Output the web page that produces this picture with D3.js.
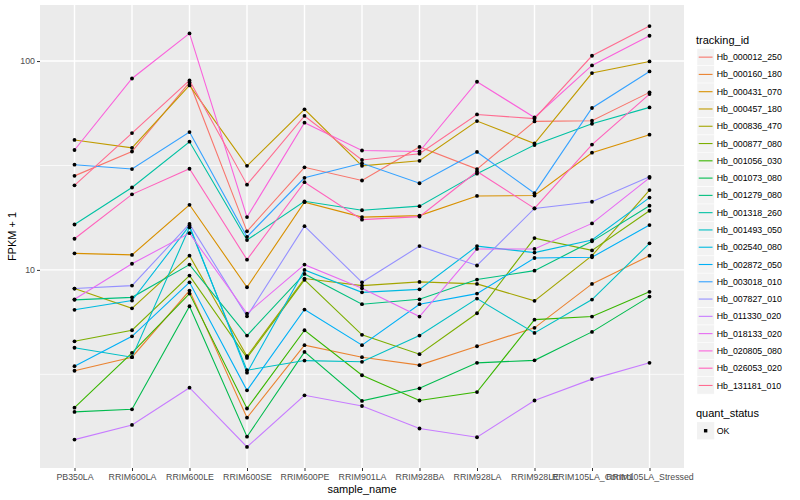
<!DOCTYPE html>
<html>
<head>
<meta charset="utf-8">
<script src="https://cdn.jsdelivr.net/npm/d3@7"></script>
<style>
  body { margin: 0; background: #fff; }
  text { font-family: "Liberation Sans", Arial, Helvetica, sans-serif; }
</style>
</head>
<body>
<svg width="800" height="500"></svg>
<script>
// sample names along the x axis
const samples = ["PB350LA", "RRIM600LA", "RRIM600LE", "RRIM600SE", "RRIM600PE",
  "RRIM901LA", "RRIM928BA", "RRIM928LA", "RRIM928LE", "RRIM105LA_Control", "RRIM105LA_Stressed"];

const trackingIds = ["Hb_000012_250", "Hb_000160_180", "Hb_000431_070", "Hb_000457_180",
  "Hb_000836_470", "Hb_000877_080", "Hb_001056_030", "Hb_001073_080", "Hb_001279_080",
  "Hb_001318_260", "Hb_001493_050", "Hb_002540_080", "Hb_002872_050", "Hb_003018_010",
  "Hb_007827_010", "Hb_011330_020", "Hb_018133_020", "Hb_020805_080", "Hb_026053_020",
  "Hb_131181_010"];

// FPKM + 1, one array per gene, in sample order
const hb_000012_250 = [28.2, 36.9, 79.0, 15.3, 31.0, 26.8, 38.8, 30.4, 51.4, 51.8, 70.8];
const hb_000160_180 = [3.29, 3.82, 7.96, 1.96, 4.36, 3.82, 3.50, 4.31, 5.28, 8.57, 11.7];
const hb_000431_070 = [12.0, 11.8, 20.5, 8.26, 21.1, 17.9, 18.2, 22.6, 22.7, 36.4, 44.4];
const hb_000457_180 = [41.9, 38.4, 76.4, 31.5, 58.7, 31.5, 33.3, 51.6, 40.3, 87.6, 99.6];
const hb_000836_470 = [8.14, 6.55, 11.7, 3.86, 9.09, 8.41, 8.76, 8.57, 7.11, 11.7, 24.1];
const hb_000877_080 = [4.55, 5.14, 9.39, 3.79, 8.96, 4.89, 3.95, 6.20, 14.2, 12.4, 19.2];
const hb_001056_030 = [2.19, 4.01, 7.70, 2.17, 5.14, 3.13, 2.37, 2.60, 5.78, 5.98, 7.85];
const hb_001073_080 = [2.09, 2.15, 6.70, 1.59, 4.05, 2.36, 2.71, 3.59, 3.69, 5.05, 7.45];
const hb_001279_080 = [7.19, 7.39, 10.6, 4.85, 9.57, 6.85, 7.23, 8.99, 9.92, 13.7, 20.3];
const hb_001318_260 = [16.5, 24.8, 41.1, 13.9, 21.3, 19.3, 20.2, 28.9, 39.6, 50.1, 60.0];
const hb_001493_050 = [4.24, 3.82, 16.0, 3.31, 3.68, 3.63, 4.85, 7.29, 4.99, 7.21, 13.4];
const hb_002540_080 = [6.44, 7.13, 16.3, 3.22, 10.0, 7.81, 8.07, 13.0, 12.1, 13.9, 22.2];
const hb_002872_050 = [3.46, 4.81, 8.72, 2.65, 6.46, 4.36, 6.85, 7.70, 11.4, 11.5, 16.4];
const hb_003018_010 = [31.9, 30.4, 45.7, 14.4, 27.6, 32.4, 26.0, 36.7, 23.3, 59.6, 89.2];
const hb_007827_010 = [8.14, 8.41, 16.6, 6.00, 16.2, 8.72, 13.0, 10.5, 19.7, 21.2, 27.9];
const hb_011330_020 = [1.54, 1.81, 2.73, 1.42, 2.51, 2.23, 1.74, 1.58, 2.37, 3.00, 3.59];
const hb_018133_020 = [7.23, 10.7, 15.0, 6.18, 10.6, 8.17, 5.98, 12.6, 12.6, 16.7, 27.6];
const hb_020805_080 = [37.5, 82.5, 135.6, 17.9, 50.7, 37.3, 36.9, 79.6, 53.7, 95.3, 132.2];
const hb_026053_020 = [14.1, 23.0, 30.5, 11.2, 26.3, 17.4, 18.0, 29.6, 19.7, 39.8, 69.5];
const hb_131181_010 = [25.4, 45.2, 80.8, 25.6, 54.6, 33.6, 36.0, 55.5, 53.0, 106.0, 147.1];

const seriesValues = [hb_000012_250, hb_000160_180, hb_000431_070, hb_000457_180,
  hb_000836_470, hb_000877_080, hb_001056_030, hb_001073_080, hb_001279_080,
  hb_001318_260, hb_001493_050, hb_002540_080, hb_002872_050, hb_003018_010,
  hb_007827_010, hb_011330_020, hb_018133_020, hb_020805_080, hb_026053_020,
  hb_131181_010];

const quantLevels = ["OK"];
const yMajor = [10, 100];

// ggplot default hue palette for 20 levels
const colours = ["#F8766D", "#EA8331", "#D89000", "#C09B00", "#A3A500", "#7CAE00",
  "#39B600", "#00BB4E", "#00BF7D", "#00C1A3", "#00BFC4", "#00BAE0", "#00B0F6",
  "#35A2FF", "#9590FF", "#C77CFF", "#E76BF3", "#FA62DB", "#FF62BC", "#FF6C91"];

const series = trackingIds.map((id, i) => ({id: id, values: seriesValues[i], colour: colours[i]}));

const svg = d3.select("svg");
const panel = {left: 40, right: 684, top: 5, bottom: 468};

// x: discrete, 0.6 step expansion on each side
const x = d3.scalePoint()
    .domain(samples)
    .range([panel.left, panel.right])
    .padding(0.6);

// y: log10, 5% expansion of the data range in log space
const allVals = seriesValues.flat();
const lo = Math.log10(d3.min(allVals)), hi = Math.log10(d3.max(allVals));
const pad = (hi - lo) * 0.05;
const y = d3.scaleLog()
    .domain([Math.pow(10, lo - pad), Math.pow(10, hi + pad)])
    .range([panel.bottom, panel.top]);

// panel background
svg.append("rect")
    .attr("x", panel.left).attr("y", panel.top)
    .attr("width", panel.right - panel.left).attr("height", panel.bottom - panel.top)
    .attr("fill", "#EBEBEB");

// minor y gridlines (midpoints of the log decades)
const yMinor = yMajor.map(v => v / Math.sqrt(10)).concat([yMajor[yMajor.length - 1] * Math.sqrt(10)])
    .filter(v => y(v) >= panel.top && y(v) <= panel.bottom);
svg.append("g").selectAll("line")
  .data(yMinor)
  .enter().append("line")
    .attr("x1", panel.left).attr("x2", panel.right)
    .attr("y1", d => y(d)).attr("y2", d => y(d))
    .attr("stroke", "#fff").attr("stroke-width", 0.7);

// major gridlines
svg.append("g").selectAll("line")
  .data(yMajor)
  .enter().append("line")
    .attr("x1", panel.left).attr("x2", panel.right)
    .attr("y1", d => y(d)).attr("y2", d => y(d))
    .attr("stroke", "#fff").attr("stroke-width", 1.4);

svg.append("g").selectAll("line")
  .data(samples)
  .enter().append("line")
    .attr("x1", d => x(d)).attr("x2", d => x(d))
    .attr("y1", panel.top).attr("y2", panel.bottom)
    .attr("stroke", "#fff").attr("stroke-width", 1.4);

// axes
const yAxis = svg.append("g")
    .attr("transform", `translate(${panel.left},0)`)
    .call(d3.axisLeft(y).tickValues(yMajor).tickFormat(d3.format("d")).tickSize(3).tickPadding(2));
const xAxis = svg.append("g")
    .attr("transform", `translate(0,${panel.bottom})`)
    .call(d3.axisBottom(x).tickSize(3).tickPadding(3));
[yAxis, xAxis].forEach(a => {
  a.select(".domain").remove();
  a.selectAll(".tick line").attr("stroke", "#333333").attr("stroke-width", 1);
  a.selectAll(".tick text").attr("fill", "#4D4D4D")
      .style("font-family", "'Liberation Sans', Arial, sans-serif").style("font-size", "8.8px");
});

// lines
const line = d3.line()
    .x((d, i) => x(samples[i]))
    .y(d => y(d));

svg.append("g").selectAll("path")
  .data(series)
  .enter().append("path")
    .attr("d", d => line(d.values))
    .attr("fill", "none")
    .attr("stroke", d => d.colour)
    .attr("stroke-width", 1.1);

// points
svg.append("g").selectAll("circle")
  .data(series.flatMap(s => s.values.map((v, i) => ({sample: samples[i], value: v}))))
  .enter().append("circle")
    .attr("cx", d => x(d.sample))
    .attr("cy", d => y(d.value))
    .attr("r", 1.9)
    .attr("fill", "#000");

// axis titles
svg.append("text")
    .attr("x", (panel.left + panel.right) / 2).attr("y", 493)
    .attr("text-anchor", "middle").attr("font-size", 11).attr("fill", "#000")
    .text("sample_name");

svg.append("text")
    .attr("transform", `translate(16,${(panel.top + panel.bottom) / 2}) rotate(-90)`)
    .attr("text-anchor", "middle").attr("font-size", 11).attr("fill", "#000")
    .text("FPKM + 1");

// legend: tracking_id
const keySize = 17.28;
const legX = 697, legY = 48.5;
const legend = svg.append("g");
legend.append("text")
    .attr("x", legX - 1).attr("y", legY - 4.5)
    .attr("font-size", 11).attr("fill", "#000")
    .text("tracking_id");

const keys = legend.selectAll("g.key")
  .data(series)
  .enter().append("g")
    .attr("class", "key")
    .attr("transform", (d, i) => `translate(${legX},${legY + i * keySize})`);
keys.append("rect")
    .attr("width", keySize).attr("height", keySize)
    .attr("fill", "#F2F2F2").attr("stroke", "#fff").attr("stroke-width", 0.5);
keys.append("line")
    .attr("x1", keySize * 0.1).attr("x2", keySize * 0.9)
    .attr("y1", keySize / 2).attr("y2", keySize / 2)
    .attr("stroke", d => d.colour).attr("stroke-width", 1.1);
keys.append("text")
    .attr("x", keySize + 2.5).attr("y", keySize / 2)
    .attr("dy", "0.35em")
    .attr("font-size", 8.8).attr("fill", "#000")
    .text(d => d.id);

// legend: quant_status
const qY = legY + series.length * keySize + 28;
legend.append("text")
    .attr("x", legX - 1).attr("y", qY - 5)
    .attr("font-size", 11).attr("fill", "#000")
    .text("quant_status");
const qKeys = legend.selectAll("g.qkey")
  .data(quantLevels)
  .enter().append("g")
    .attr("class", "qkey")
    .attr("transform", (d, i) => `translate(${legX},${qY + i * keySize})`);
qKeys.append("rect")
    .attr("width", keySize).attr("height", keySize)
    .attr("fill", "#F2F2F2");
qKeys.append("rect")
    .attr("x", keySize / 2 - 1.7).attr("y", keySize / 2 - 1.7)
    .attr("width", 3.4).attr("height", 3.4)
    .attr("fill", "#000");
qKeys.append("text")
    .attr("x", keySize + 2.5).attr("y", keySize / 2)
    .attr("dy", "0.35em")
    .attr("font-size", 8.8).attr("fill", "#000")
    .text(d => d);
</script>
</body>
</html>
